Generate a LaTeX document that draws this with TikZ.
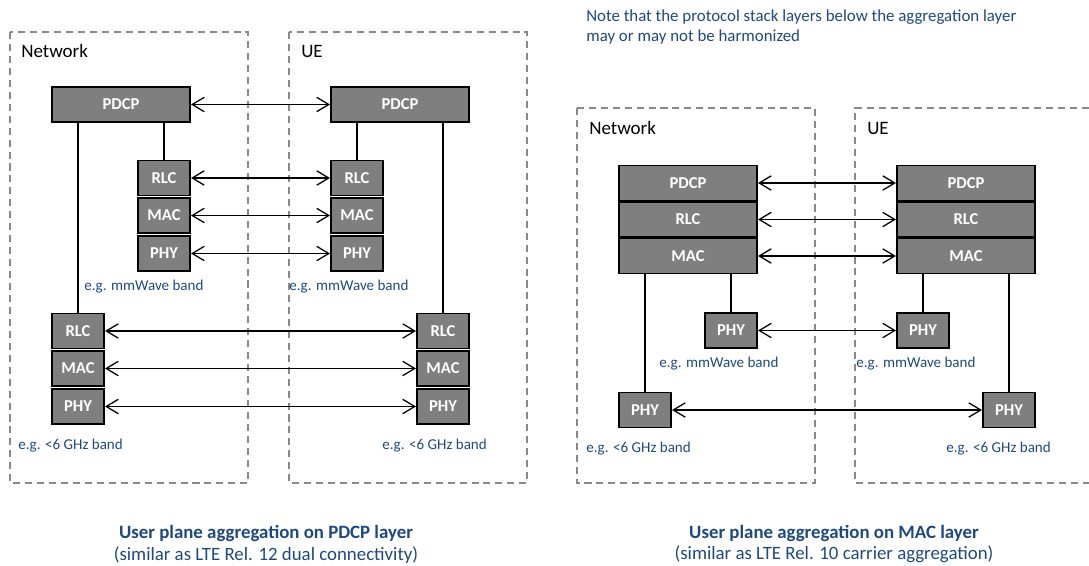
\documentclass[tikz,border=0pt]{standalone}
\usepackage{fontspec}
\setmainfont{Carlito}
\usetikzlibrary{arrows.meta}
\definecolor{bandblue}{RGB}{31,73,125}
\definecolor{layergray}{RGB}{127,127,127}
\definecolor{zonegray}{RGB}{137,137,137}

\begin{document}
\begin{tikzpicture}[x=0.025cm,y=-0.025cm,
	layer/.style={draw=black,line width=1.2pt,fill=layergray,text=white,inner sep=0pt,
		font=\fontsize{11.8}{12}\selectfont\bfseries,minimum height=0.87cm},
	wide/.style={layer,minimum width=3.46cm},
	narrow/.style={layer,minimum width=1.31cm},
	zone/.style={draw=zonegray,line width=0.9pt,dash pattern=on 5pt off 3.5pt},
	side/.style={anchor=west,inner sep=0pt,font=\fontsize{13.5}{14}\selectfont},
	band/.style={anchor=west,inner sep=0pt,text=bandblue,font=\fontsize{10.7}{11}\selectfont},
	wire/.style={line width=0.9pt},
	link/.style={{Straight Barb[length=3mm,width=3.6mm]}-{Straight Barb[length=3mm,width=3.6mm]},line width=0.9pt},
	caption/.style={text=bandblue,align=center,inner sep=0pt,font=\fontsize{13.4}{15.6}\selectfont}]

	\useasboundingbox (0,0) rectangle (1089,565);

	% left half: aggregation on PDCP
	\draw[zone] (10,32) rectangle (248,483);
	\draw[zone] (289,32) rectangle (527,483);
	\node[side] (lnet) at (21,51) {Network};
	\node[side] (lue) at (301,51) {UE};

	\node[wide] (lnPDCP) at (121,104.5) {PDCP};
	\node[wide] (luPDCP) at (400,104.5) {PDCP};
	\draw[link] (lnPDCP) -- (luPDCP);

	% mmWave stack
	\foreach \lay/\y in {RLC/178,MAC/215.5,PHY/253.5} {
		\node[narrow] (ln\lay) at (164,\y) {\lay};
		\node[narrow] (lu\lay) at (357,\y) {\lay};
		\draw[link] (ln\lay) -- (lu\lay);
	}
	% <6 GHz stack
	\foreach \lay/\y in {RLC/331,MAC/368.5,PHY/406.5} {
		\node[narrow] (lnlow\lay) at (78,\y) {\lay};
		\node[narrow] (lulow\lay) at (443,\y) {\lay};
		\draw[link] (lnlow\lay) -- (lulow\lay);
	}
	\draw[wire] (lnRLC.north) -- (lnRLC.north |- lnPDCP.south);
	\draw[wire] (luRLC.north) -- (luRLC.north |- luPDCP.south);
	\draw[wire] (lnlowRLC.north) -- (lnlowRLC.north |- lnPDCP.south);
	\draw[wire] (lulowRLC.north) -- (lulowRLC.north |- luPDCP.south);

	\node[band] (lnmm) at (84,287) {e.g. mmWave band};
	\node[band] (lumm) at (289,287) {e.g. mmWave band};
	\node[band] (lnsub) at (18,446) {e.g. <6 GHz band};
	\node[band] (lusub) at (382,446) {e.g. <6 GHz band};

	\node[caption] (lcap) at (266,544) {\textbf{User plane aggregation on PDCP layer}\\(similar as LTE Rel. 12 dual connectivity)};

	% right half: aggregation on MAC
	\node[band,font=\fontsize{12}{14.2}\selectfont,align=left] (note) at (586,27)
		{Note that the protocol stack layers below the aggregation layer\\may or may not be harmonized};

	\draw[zone] (577,108) rectangle (815,483);
	\draw[zone] (1089,108) -- (855,108) -- (855,483) -- (1089,483);
	\node[side] (rnet) at (589,128) {Network};
	\node[side] (rue) at (867,128) {UE};

	\foreach \lay/\y in {PDCP/183,RLC/219.5,MAC/256} {
		\node[wide] (rn\lay) at (688,\y) {\lay};
		\node[wide] (ru\lay) at (966,\y) {\lay};
		\draw[link] (rn\lay) -- (ru\lay);
	}
	\node[narrow] (rnmm) at (731,330.5) {PHY};
	\node[narrow] (rumm) at (923,330.5) {PHY};
	\node[narrow] (rnlow) at (645,410) {PHY};
	\node[narrow] (rulow) at (1009,410) {PHY};
	\draw[link] (rnmm) -- (rumm);
	\draw[link] (rnlow) -- (rulow);
	\draw[wire] (rnmm.north) -- (rnmm.north |- rnMAC.south);
	\draw[wire] (rumm.north) -- (rumm.north |- ruMAC.south);
	\draw[wire] (rnlow.north) -- (rnlow.north |- rnMAC.south);
	\draw[wire] (rulow.north) -- (rulow.north |- ruMAC.south);

	\node[band] (rnmmtxt) at (659,364) {e.g. mmWave band};
	\node[band] (rummtxt) at (856,364) {e.g. mmWave band};
	\node[band] (rnsub) at (586,449) {e.g. <6 GHz band};
	\node[band] (rusub) at (946,449) {e.g. <6 GHz band};

	\node[caption] (rcap) at (834,544) {\textbf{User plane aggregation on MAC layer}\\(similar as LTE Rel. 10 carrier aggregation)};
\end{tikzpicture}
\end{document}
